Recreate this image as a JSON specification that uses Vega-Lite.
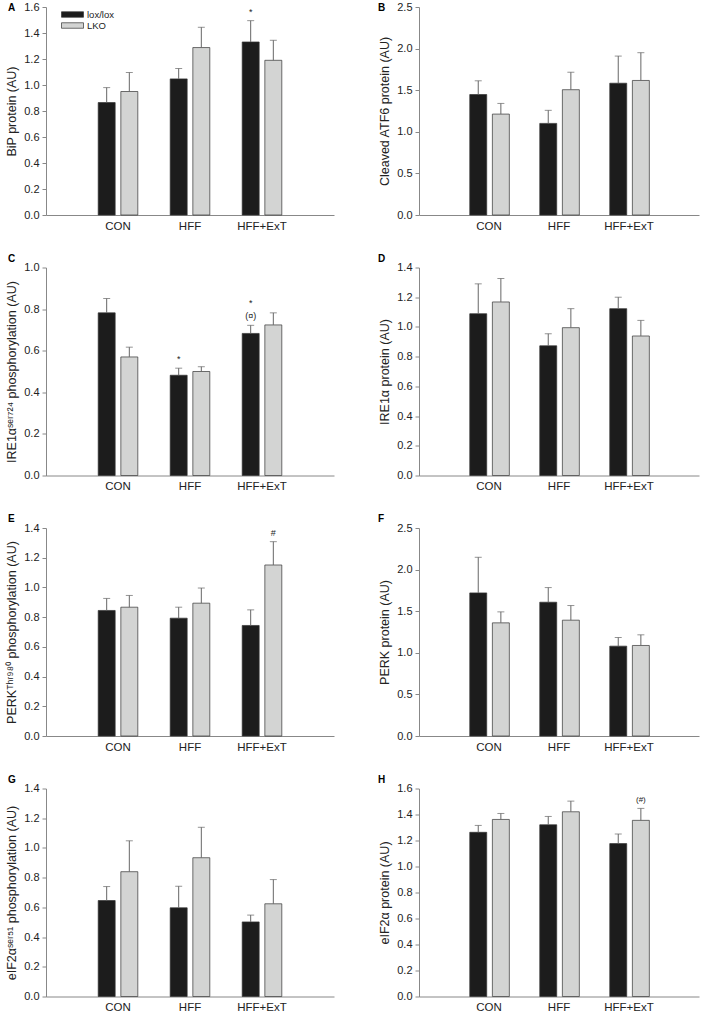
{
  "$schema": "https://vega.github.io/schema/vega-lite/v6.json",
  "description": "ER stress markers in lox/lox and LKO mice, panels A-H",
  "background": "white",
  "padding": {"left": 5, "top": 1, "right": 5, "bottom": 1},
  "data": {
    "values": [
      {"panel": "A", "group": "CON", "geno": "lox/lox", "mean": 0.865, "hi": 0.98},
      {"panel": "A", "group": "CON", "geno": "LKO", "mean": 0.95, "hi": 1.096},
      {"panel": "A", "group": "HFF", "geno": "lox/lox", "mean": 1.047, "hi": 1.127},
      {"panel": "A", "group": "HFF", "geno": "LKO", "mean": 1.288, "hi": 1.444},
      {"panel": "A", "group": "HFF+ExT", "geno": "lox/lox", "mean": 1.331, "hi": 1.495, "note": "*"},
      {"panel": "A", "group": "HFF+ExT", "geno": "LKO", "mean": 1.19, "hi": 1.344},
      {"panel": "B", "group": "CON", "geno": "lox/lox", "mean": 1.448, "hi": 1.613},
      {"panel": "B", "group": "CON", "geno": "LKO", "mean": 1.213, "hi": 1.341},
      {"panel": "B", "group": "HFF", "geno": "lox/lox", "mean": 1.101, "hi": 1.258},
      {"panel": "B", "group": "HFF", "geno": "LKO", "mean": 1.506, "hi": 1.716},
      {"panel": "B", "group": "HFF+ExT", "geno": "lox/lox", "mean": 1.584, "hi": 1.91},
      {"panel": "B", "group": "HFF+ExT", "geno": "LKO", "mean": 1.617, "hi": 1.951},
      {"panel": "C", "group": "CON", "geno": "lox/lox", "mean": 0.782, "hi": 0.851},
      {"panel": "C", "group": "CON", "geno": "LKO", "mean": 0.57, "hi": 0.617},
      {"panel": "C", "group": "HFF", "geno": "lox/lox", "mean": 0.482, "hi": 0.516, "note": "*"},
      {"panel": "C", "group": "HFF", "geno": "LKO", "mean": 0.5, "hi": 0.523},
      {"panel": "C", "group": "HFF+ExT", "geno": "lox/lox", "mean": 0.683, "hi": 0.722, "note": "(¤)", "note2": "*"},
      {"panel": "C", "group": "HFF+ExT", "geno": "LKO", "mean": 0.724, "hi": 0.782},
      {"panel": "D", "group": "CON", "geno": "lox/lox", "mean": 1.089, "hi": 1.29},
      {"panel": "D", "group": "CON", "geno": "LKO", "mean": 1.168, "hi": 1.326},
      {"panel": "D", "group": "HFF", "geno": "lox/lox", "mean": 0.873, "hi": 0.954},
      {"panel": "D", "group": "HFF", "geno": "LKO", "mean": 0.995, "hi": 1.123},
      {"panel": "D", "group": "HFF+ExT", "geno": "lox/lox", "mean": 1.123, "hi": 1.2},
      {"panel": "D", "group": "HFF+ExT", "geno": "LKO", "mean": 0.939, "hi": 1.044},
      {"panel": "E", "group": "CON", "geno": "lox/lox", "mean": 0.845, "hi": 0.926},
      {"panel": "E", "group": "CON", "geno": "LKO", "mean": 0.867, "hi": 0.946},
      {"panel": "E", "group": "HFF", "geno": "lox/lox", "mean": 0.793, "hi": 0.867},
      {"panel": "E", "group": "HFF", "geno": "LKO", "mean": 0.894, "hi": 0.996},
      {"panel": "E", "group": "HFF+ExT", "geno": "lox/lox", "mean": 0.744, "hi": 0.849},
      {"panel": "E", "group": "HFF+ExT", "geno": "LKO", "mean": 1.151, "hi": 1.308, "note": "#"},
      {"panel": "F", "group": "CON", "geno": "lox/lox", "mean": 1.72, "hi": 2.148},
      {"panel": "F", "group": "CON", "geno": "LKO", "mean": 1.36, "hi": 1.492},
      {"panel": "F", "group": "HFF", "geno": "lox/lox", "mean": 1.608, "hi": 1.784},
      {"panel": "F", "group": "HFF", "geno": "LKO", "mean": 1.392, "hi": 1.568},
      {"panel": "F", "group": "HFF+ExT", "geno": "lox/lox", "mean": 1.08, "hi": 1.184},
      {"panel": "F", "group": "HFF+ExT", "geno": "LKO", "mean": 1.088, "hi": 1.216},
      {"panel": "G", "group": "CON", "geno": "lox/lox", "mean": 0.646, "hi": 0.74},
      {"panel": "G", "group": "CON", "geno": "LKO", "mean": 0.84, "hi": 1.048},
      {"panel": "G", "group": "HFF", "geno": "lox/lox", "mean": 0.597, "hi": 0.742},
      {"panel": "G", "group": "HFF", "geno": "LKO", "mean": 0.934, "hi": 1.139},
      {"panel": "G", "group": "HFF+ExT", "geno": "lox/lox", "mean": 0.502, "hi": 0.548},
      {"panel": "G", "group": "HFF+ExT", "geno": "LKO", "mean": 0.624, "hi": 0.787},
      {"panel": "H", "group": "CON", "geno": "lox/lox", "mean": 1.263, "hi": 1.316},
      {"panel": "H", "group": "CON", "geno": "LKO", "mean": 1.362, "hi": 1.408},
      {"panel": "H", "group": "HFF", "geno": "lox/lox", "mean": 1.321, "hi": 1.385},
      {"panel": "H", "group": "HFF", "geno": "LKO", "mean": 1.421, "hi": 1.503},
      {"panel": "H", "group": "HFF+ExT", "geno": "lox/lox", "mean": 1.176, "hi": 1.25},
      {"panel": "H", "group": "HFF+ExT", "geno": "LKO", "mean": 1.355, "hi": 1.447, "note": "(#)"}
    ]
  },
  "columns": 2,
  "spacing": {"row": 21.5, "column": 44},
  "concat": [
    {
      "width": 288, "height": 208,
      "title": {"text": "A", "anchor": "start", "frame": "group", "dx": -38, "offset": -11.5},
      "transform": [{"filter": "datum.panel == 'A'"}],
      "encoding": {
        "x": {"field": "group", "type": "nominal", "sort": null, "title": null, "scale": {"domain": ["CON", "HFF", "HFF+ExT"], "paddingInner": 0.45, "paddingOuter": 0.725}},
        "xOffset": {"field": "geno", "type": "nominal", "sort": null, "scale": {"domain": ["lox/lox", "LKO"], "paddingInner": 0.25, "paddingOuter": 0}}
      },
      "layer": [
        {
          "mark": {"type": "bar", "stroke": "#333", "strokeWidth": 0.7},
          "encoding": {
            "y": {"field": "mean", "type": "quantitative", "title": "BiP protein (AU)", "scale": {"domain": [0, 1.6], "nice": false}, "axis": {"values": [0, 0.2, 0.4, 0.6, 0.8, 1.0, 1.2, 1.4, 1.6], "tickCount": 10, "format": ".1f"}},
            "fill": {"field": "geno", "type": "nominal", "sort": null, "title": null, "scale": {"domain": ["lox/lox", "LKO"], "range": ["#1c1c1c", "#d3d4d3"]},
              "legend": {"orient": "none", "legendX": 20.5, "legendY": 1.5, "padding": 0, "rowPadding": 0, "symbolType": "M-2,-0.5L2,-0.5L2,0.5L-2,0.5Z", "symbolSize": 121, "symbolStrokeColor": "#333", "symbolStrokeWidth": 0.7, "labelFontSize": 9.5, "labelOffset": 8.5}}
          }
        },
        {"mark": {"type": "rule", "color": "#666"}, "encoding": {"y": {"field": "mean", "type": "quantitative", "title": "BiP protein (AU)", "scale": {"domain": [0, 1.6], "nice": false}}, "y2": {"field": "hi"}}},
        {"mark": {"type": "tick", "color": "#666", "size": 7, "thickness": 1}, "encoding": {"y": {"field": "hi", "type": "quantitative", "title": "BiP protein (AU)", "scale": {"domain": [0, 1.6], "nice": false}}}},
        {"transform": [{"filter": "datum.note"}], "mark": {"type": "text", "baseline": "bottom", "dy": -4, "fontSize": 9, "color": "#222"}, "encoding": {"y": {"field": "hi", "type": "quantitative", "title": "BiP protein (AU)", "scale": {"domain": [0, 1.6], "nice": false}}, "text": {"field": "note"}}}
      ]
    },
    {
      "width": 280, "height": 208,
      "title": {"text": "B", "anchor": "start", "frame": "group", "dx": -41, "offset": -11.5},
      "transform": [{"filter": "datum.panel == 'B'"}],
      "encoding": {
        "x": {"field": "group", "type": "nominal", "sort": null, "title": null, "scale": {"domain": ["CON", "HFF", "HFF+ExT"], "paddingInner": 0.45, "paddingOuter": 0.725}},
        "xOffset": {"field": "geno", "type": "nominal", "sort": null, "scale": {"domain": ["lox/lox", "LKO"], "paddingInner": 0.25, "paddingOuter": 0}}
      },
      "layer": [
        {
          "mark": {"type": "bar", "stroke": "#333", "strokeWidth": 0.7},
          "encoding": {
            "y": {"field": "mean", "type": "quantitative", "title": "Cleaved ATF6 protein (AU)", "scale": {"domain": [0, 2.5], "nice": false}, "axis": {"values": [0, 0.5, 1.0, 1.5, 2.0, 2.5], "tickCount": 10, "format": ".1f"}},
            "fill": {"field": "geno", "type": "nominal", "sort": null, "scale": {"domain": ["lox/lox", "LKO"], "range": ["#1c1c1c", "#d3d4d3"]}, "legend": null}
          }
        },
        {"mark": {"type": "rule", "color": "#666"}, "encoding": {"y": {"field": "mean", "type": "quantitative", "title": "Cleaved ATF6 protein (AU)", "scale": {"domain": [0, 2.5], "nice": false}}, "y2": {"field": "hi"}}},
        {"mark": {"type": "tick", "color": "#666", "size": 7, "thickness": 1}, "encoding": {"y": {"field": "hi", "type": "quantitative", "title": "Cleaved ATF6 protein (AU)", "scale": {"domain": [0, 2.5], "nice": false}}}}
      ]
    },
    {
      "width": 288, "height": 208,
      "title": {"text": "C", "anchor": "start", "frame": "group", "dx": -38, "offset": -2},
      "transform": [{"filter": "datum.panel == 'C'"}],
      "encoding": {
        "x": {"field": "group", "type": "nominal", "sort": null, "title": null, "scale": {"domain": ["CON", "HFF", "HFF+ExT"], "paddingInner": 0.45, "paddingOuter": 0.725}},
        "xOffset": {"field": "geno", "type": "nominal", "sort": null, "scale": {"domain": ["lox/lox", "LKO"], "paddingInner": 0.25, "paddingOuter": 0}}
      },
      "layer": [
        {
          "mark": {"type": "bar", "stroke": "#333", "strokeWidth": 0.7},
          "encoding": {
            "y": {"field": "mean", "type": "quantitative", "title": "IRE1αˢᵉʳ⁷²⁴ phosphorylation (AU)", "scale": {"domain": [0, 1.0], "nice": false}, "axis": {"values": [0, 0.2, 0.4, 0.6, 0.8, 1.0], "tickCount": 10, "format": ".1f"}},
            "fill": {"field": "geno", "type": "nominal", "sort": null, "scale": {"domain": ["lox/lox", "LKO"], "range": ["#1c1c1c", "#d3d4d3"]}, "legend": null}
          }
        },
        {"mark": {"type": "rule", "color": "#666"}, "encoding": {"y": {"field": "mean", "type": "quantitative", "title": "IRE1αˢᵉʳ⁷²⁴ phosphorylation (AU)", "scale": {"domain": [0, 1.0], "nice": false}}, "y2": {"field": "hi"}}},
        {"mark": {"type": "tick", "color": "#666", "size": 7, "thickness": 1}, "encoding": {"y": {"field": "hi", "type": "quantitative", "title": "IRE1αˢᵉʳ⁷²⁴ phosphorylation (AU)", "scale": {"domain": [0, 1.0], "nice": false}}}},
        {"transform": [{"filter": "datum.note"}], "mark": {"type": "text", "baseline": "bottom", "dy": -4, "fontSize": 9, "color": "#222"}, "encoding": {"y": {"field": "hi", "type": "quantitative", "title": "IRE1αˢᵉʳ⁷²⁴ phosphorylation (AU)", "scale": {"domain": [0, 1.0], "nice": false}}, "text": {"field": "note"}}},
        {"transform": [{"filter": "datum.note2"}], "mark": {"type": "text", "baseline": "bottom", "dy": -17, "fontSize": 9, "color": "#222"}, "encoding": {"y": {"field": "hi", "type": "quantitative", "title": "IRE1αˢᵉʳ⁷²⁴ phosphorylation (AU)", "scale": {"domain": [0, 1.0], "nice": false}}, "text": {"field": "note2"}}}
      ]
    },
    {
      "width": 280, "height": 208,
      "title": {"text": "D", "anchor": "start", "frame": "group", "dx": -41, "offset": -2},
      "transform": [{"filter": "datum.panel == 'D'"}],
      "encoding": {
        "x": {"field": "group", "type": "nominal", "sort": null, "title": null, "scale": {"domain": ["CON", "HFF", "HFF+ExT"], "paddingInner": 0.45, "paddingOuter": 0.725}},
        "xOffset": {"field": "geno", "type": "nominal", "sort": null, "scale": {"domain": ["lox/lox", "LKO"], "paddingInner": 0.25, "paddingOuter": 0}}
      },
      "layer": [
        {
          "mark": {"type": "bar", "stroke": "#333", "strokeWidth": 0.7},
          "encoding": {
            "y": {"field": "mean", "type": "quantitative", "title": "IRE1α protein (AU)", "scale": {"domain": [0, 1.4], "nice": false}, "axis": {"values": [0, 0.2, 0.4, 0.6, 0.8, 1.0, 1.2, 1.4], "tickCount": 10, "format": ".1f"}},
            "fill": {"field": "geno", "type": "nominal", "sort": null, "scale": {"domain": ["lox/lox", "LKO"], "range": ["#1c1c1c", "#d3d4d3"]}, "legend": null}
          }
        },
        {"mark": {"type": "rule", "color": "#666"}, "encoding": {"y": {"field": "mean", "type": "quantitative", "title": "IRE1α protein (AU)", "scale": {"domain": [0, 1.4], "nice": false}}, "y2": {"field": "hi"}}},
        {"mark": {"type": "tick", "color": "#666", "size": 7, "thickness": 1}, "encoding": {"y": {"field": "hi", "type": "quantitative", "title": "IRE1α protein (AU)", "scale": {"domain": [0, 1.4], "nice": false}}}}
      ]
    },
    {
      "width": 288, "height": 208,
      "title": {"text": "E", "anchor": "start", "frame": "group", "dx": -38, "offset": -2},
      "transform": [{"filter": "datum.panel == 'E'"}],
      "encoding": {
        "x": {"field": "group", "type": "nominal", "sort": null, "title": null, "scale": {"domain": ["CON", "HFF", "HFF+ExT"], "paddingInner": 0.45, "paddingOuter": 0.725}},
        "xOffset": {"field": "geno", "type": "nominal", "sort": null, "scale": {"domain": ["lox/lox", "LKO"], "paddingInner": 0.25, "paddingOuter": 0}}
      },
      "layer": [
        {
          "mark": {"type": "bar", "stroke": "#333", "strokeWidth": 0.7},
          "encoding": {
            "y": {"field": "mean", "type": "quantitative", "title": "PERKᵀʰʳ⁹⁸⁰ phosphorylation (AU)", "scale": {"domain": [0, 1.4], "nice": false}, "axis": {"values": [0, 0.2, 0.4, 0.6, 0.8, 1.0, 1.2, 1.4], "tickCount": 10, "format": ".1f"}},
            "fill": {"field": "geno", "type": "nominal", "sort": null, "scale": {"domain": ["lox/lox", "LKO"], "range": ["#1c1c1c", "#d3d4d3"]}, "legend": null}
          }
        },
        {"mark": {"type": "rule", "color": "#666"}, "encoding": {"y": {"field": "mean", "type": "quantitative", "title": "PERKᵀʰʳ⁹⁸⁰ phosphorylation (AU)", "scale": {"domain": [0, 1.4], "nice": false}}, "y2": {"field": "hi"}}},
        {"mark": {"type": "tick", "color": "#666", "size": 7, "thickness": 1}, "encoding": {"y": {"field": "hi", "type": "quantitative", "title": "PERKᵀʰʳ⁹⁸⁰ phosphorylation (AU)", "scale": {"domain": [0, 1.4], "nice": false}}}},
        {"transform": [{"filter": "datum.note"}], "mark": {"type": "text", "baseline": "bottom", "dy": -4, "fontSize": 9, "color": "#222"}, "encoding": {"y": {"field": "hi", "type": "quantitative", "title": "PERKᵀʰʳ⁹⁸⁰ phosphorylation (AU)", "scale": {"domain": [0, 1.4], "nice": false}}, "text": {"field": "note"}}}
      ]
    },
    {
      "width": 280, "height": 208,
      "title": {"text": "F", "anchor": "start", "frame": "group", "dx": -41, "offset": -2},
      "transform": [{"filter": "datum.panel == 'F'"}],
      "encoding": {
        "x": {"field": "group", "type": "nominal", "sort": null, "title": null, "scale": {"domain": ["CON", "HFF", "HFF+ExT"], "paddingInner": 0.45, "paddingOuter": 0.725}},
        "xOffset": {"field": "geno", "type": "nominal", "sort": null, "scale": {"domain": ["lox/lox", "LKO"], "paddingInner": 0.25, "paddingOuter": 0}}
      },
      "layer": [
        {
          "mark": {"type": "bar", "stroke": "#333", "strokeWidth": 0.7},
          "encoding": {
            "y": {"field": "mean", "type": "quantitative", "title": "PERK protein (AU)", "scale": {"domain": [0, 2.5], "nice": false}, "axis": {"values": [0, 0.5, 1.0, 1.5, 2.0, 2.5], "tickCount": 10, "format": ".1f"}},
            "fill": {"field": "geno", "type": "nominal", "sort": null, "scale": {"domain": ["lox/lox", "LKO"], "range": ["#1c1c1c", "#d3d4d3"]}, "legend": null}
          }
        },
        {"mark": {"type": "rule", "color": "#666"}, "encoding": {"y": {"field": "mean", "type": "quantitative", "title": "PERK protein (AU)", "scale": {"domain": [0, 2.5], "nice": false}}, "y2": {"field": "hi"}}},
        {"mark": {"type": "tick", "color": "#666", "size": 7, "thickness": 1}, "encoding": {"y": {"field": "hi", "type": "quantitative", "title": "PERK protein (AU)", "scale": {"domain": [0, 2.5], "nice": false}}}}
      ]
    },
    {
      "width": 288, "height": 208,
      "title": {"text": "G", "anchor": "start", "frame": "group", "dx": -38, "offset": -2},
      "transform": [{"filter": "datum.panel == 'G'"}],
      "encoding": {
        "x": {"field": "group", "type": "nominal", "sort": null, "title": null, "scale": {"domain": ["CON", "HFF", "HFF+ExT"], "paddingInner": 0.45, "paddingOuter": 0.725}},
        "xOffset": {"field": "geno", "type": "nominal", "sort": null, "scale": {"domain": ["lox/lox", "LKO"], "paddingInner": 0.25, "paddingOuter": 0}}
      },
      "layer": [
        {
          "mark": {"type": "bar", "stroke": "#333", "strokeWidth": 0.7},
          "encoding": {
            "y": {"field": "mean", "type": "quantitative", "title": "eIF2αˢᵉʳ⁵¹ phosphorylation (AU)", "scale": {"domain": [0, 1.4], "nice": false}, "axis": {"values": [0, 0.2, 0.4, 0.6, 0.8, 1.0, 1.2, 1.4], "tickCount": 10, "format": ".1f"}},
            "fill": {"field": "geno", "type": "nominal", "sort": null, "scale": {"domain": ["lox/lox", "LKO"], "range": ["#1c1c1c", "#d3d4d3"]}, "legend": null}
          }
        },
        {"mark": {"type": "rule", "color": "#666"}, "encoding": {"y": {"field": "mean", "type": "quantitative", "title": "eIF2αˢᵉʳ⁵¹ phosphorylation (AU)", "scale": {"domain": [0, 1.4], "nice": false}}, "y2": {"field": "hi"}}},
        {"mark": {"type": "tick", "color": "#666", "size": 7, "thickness": 1}, "encoding": {"y": {"field": "hi", "type": "quantitative", "title": "eIF2αˢᵉʳ⁵¹ phosphorylation (AU)", "scale": {"domain": [0, 1.4], "nice": false}}}}
      ]
    },
    {
      "width": 280, "height": 208,
      "title": {"text": "H", "anchor": "start", "frame": "group", "dx": -41, "offset": -2},
      "transform": [{"filter": "datum.panel == 'H'"}],
      "encoding": {
        "x": {"field": "group", "type": "nominal", "sort": null, "title": null, "scale": {"domain": ["CON", "HFF", "HFF+ExT"], "paddingInner": 0.45, "paddingOuter": 0.725}},
        "xOffset": {"field": "geno", "type": "nominal", "sort": null, "scale": {"domain": ["lox/lox", "LKO"], "paddingInner": 0.25, "paddingOuter": 0}}
      },
      "layer": [
        {
          "mark": {"type": "bar", "stroke": "#333", "strokeWidth": 0.7},
          "encoding": {
            "y": {"field": "mean", "type": "quantitative", "title": "eIF2α protein (AU)", "scale": {"domain": [0, 1.6], "nice": false}, "axis": {"values": [0, 0.2, 0.4, 0.6, 0.8, 1.0, 1.2, 1.4, 1.6], "tickCount": 10, "format": ".1f"}},
            "fill": {"field": "geno", "type": "nominal", "sort": null, "scale": {"domain": ["lox/lox", "LKO"], "range": ["#1c1c1c", "#d3d4d3"]}, "legend": null}
          }
        },
        {"mark": {"type": "rule", "color": "#666"}, "encoding": {"y": {"field": "mean", "type": "quantitative", "title": "eIF2α protein (AU)", "scale": {"domain": [0, 1.6], "nice": false}}, "y2": {"field": "hi"}}},
        {"mark": {"type": "tick", "color": "#666", "size": 7, "thickness": 1}, "encoding": {"y": {"field": "hi", "type": "quantitative", "title": "eIF2α protein (AU)", "scale": {"domain": [0, 1.6], "nice": false}}}},
        {"transform": [{"filter": "datum.note"}], "mark": {"type": "text", "baseline": "bottom", "dy": -4, "fontSize": 8, "color": "#222"}, "encoding": {"y": {"field": "hi", "type": "quantitative", "title": "eIF2α protein (AU)", "scale": {"domain": [0, 1.6], "nice": false}}, "text": {"field": "note"}}}
      ]
    }
  ],
  "resolve": {"scale": {"fill": "independent"}, "legend": {"fill": "independent"}},
  "config": {
    "font": "Liberation Sans",
    "view": {"stroke": null},
    "title": {"fontSize": 10, "fontWeight": "bold", "color": "#000", "baseline": "bottom"},
    "axis": {"grid": false, "domainColor": "#888", "tickColor": "#888", "labelColor": "#222", "titleColor": "#222", "titleFontWeight": "normal", "labelFontSize": 11, "titleFontSize": 12.5},
    "axisX": {"ticks": false, "labelAngle": 0, "labelPadding": 5, "labelFontSize": 11.5},
    "axisY": {"tickSize": 4, "labelPadding": 3, "titlePadding": 5, "labelOverlap": false},
    "legend": {"labelColor": "#222"}
  }
}
